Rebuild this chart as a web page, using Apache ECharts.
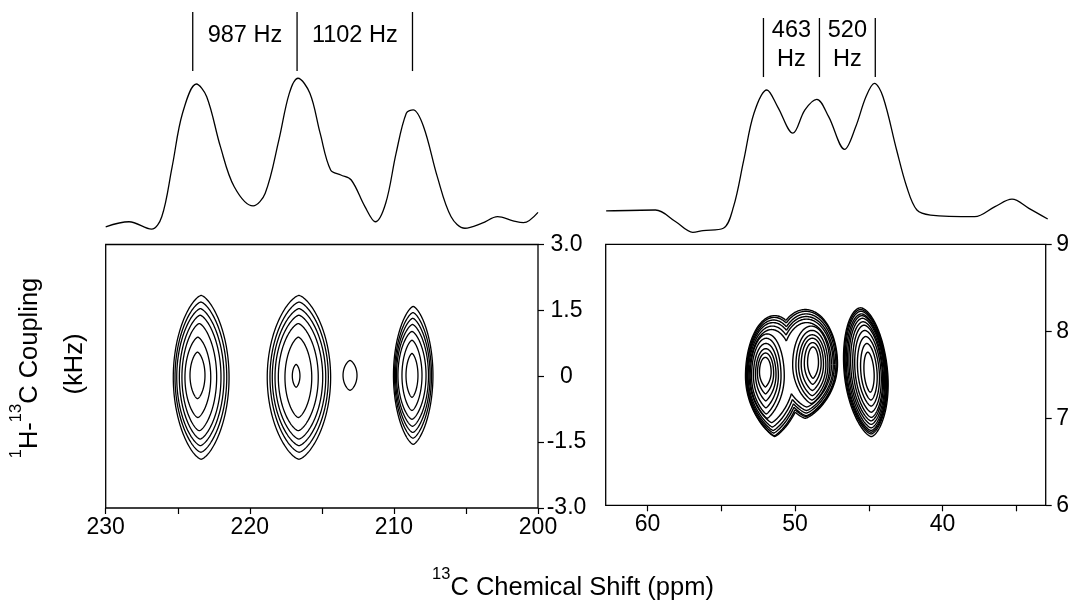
<!DOCTYPE html>
<html><head><meta charset="utf-8">
<script src="https://cdn.jsdelivr.net/npm/echarts@6/dist/echarts.min.js"></script>
<style>html,body{margin:0;padding:0;background:#fff}#c{width:1072px;height:605px}</style>
</head><body><div id="c"></div>
<script>
// ---------------- DATA ----------------
// Top 1D spectra: chemical shift (ppm) and intensity (arbitrary units)
const leftSpecPpm = [230.0, 228.38, 226.82, 226.11, 225.39, 224.67, 223.71, 222.99, 222.04, 221.08, 219.77, 218.93, 217.98, 217.26, 216.66, 215.83, 215.12, 214.39, 213.68, 212.96, 212.01, 211.29, 210.57, 209.85, 209.14, 208.66, 207.94, 206.99, 206.03, 205.07, 203.88, 202.80, 201.73, 201.01, 200.0];
const leftSpecInt = [5.5, 7.6, 4.5, 9.7, 30.5, 52.8, 65.0, 59.7, 38.9, 22.2, 14.2, 19.5, 41.7, 61.1, 67.4, 61.1, 44.5, 29.2, 27.1, 25.0, 13.9, 7.6, 15.3, 36.1, 52.8, 54.2, 47.2, 26.4, 9.7, 4.9, 7.0, 9.7, 8.0, 7.2, 11.5];
const rightSpecPpm = [62.81, 59.48, 58.11, 56.96, 56.27, 54.90, 54.21, 53.52, 52.83, 51.96, 51.23, 50.20, 49.39, 48.59, 47.79, 46.71, 45.96, 45.27, 44.70, 44.12, 43.20, 42.52, 41.83, 40.91, 37.93, 36.56, 35.41, 34.27, 33.0];
const rightSpecInt = [12.1, 12.5, 7.6, 3.2, 3.9, 4.9, 13.9, 33.3, 52.8, 62.5, 55.5, 44.5, 54.2, 58.6, 51.4, 37.8, 47.2, 59.7, 65.3, 59.7, 37.5, 22.2, 12.5, 10.4, 9.7, 13.9, 17.0, 13.2, 8.75];

// Splitting markers (ppm) and their labels
const leftMarkerPpm = [223.96, 216.72, 208.71];
const leftMarkerLabels = ['987 Hz', '1102 Hz'];
const rightMarkerPpm = [52.19, 48.41, 44.64];
const rightMarkerLabels = ['463\nHz', '520\nHz'];

// Axis ticks
const leftXTicks = [200, 205, 210, 215, 220, 225, 230];
const leftXLabels = [200, 210, 220, 230];
const leftYTicks = [-3, -1.5, 0, 1.5, 3];
const rightXTicks = [35, 40, 45, 50, 55, 60];
const rightXLabels = [40, 50, 60];
const rightYTicks = [6, 7, 8, 9];

// Contour rings: [leftEdgePpm, rightEdgePpm, top, bottom]
const leftPeak1Rings = [
  [225.31, 221.44, 1.84, -1.89], [225.19, 221.60, 1.69, -1.73], [225.07, 221.79, 1.54, -1.58],
  [224.89, 222.00, 1.39, -1.43], [224.71, 222.30, 1.20, -1.24], [224.50, 222.71, 0.89, -0.94],
  [224.15, 223.11, 0.55, -0.51]];
const leftPeak2Rings = [
  [218.79, 214.39, 1.84, -1.89], [218.60, 214.55, 1.69, -1.73], [218.44, 214.73, 1.54, -1.58],
  [218.25, 214.94, 1.39, -1.43], [218.02, 215.25, 1.20, -1.24], [217.56, 215.70, 0.89, -0.94],
  [217.05, 216.52, 0.27, -0.25]];
const leftSmallRings = [[213.53, 212.56, 0.36, -0.32]];
const leftPeak3Rings = [
  [210.03, 207.29, 1.59, -1.55], [209.96, 207.39, 1.45, -1.41], [209.89, 207.49, 1.32, -1.28],
  [209.82, 207.60, 1.18, -1.14], [209.72, 207.77, 1.02, -0.98], [209.44, 208.05, 0.82, -0.78],
  [209.16, 208.33, 0.52, -0.48]];

const rightPeakARings = [
  [53.36, 49.40, 8.18, 6.79], [53.31, 49.51, 8.16, 6.80], [53.27, 49.63, 8.13, 6.83],
  [53.23, 49.74, 8.10, 6.86], [53.18, 49.90, 8.06, 6.90], [53.11, 50.07, 8.02, 6.95],
  [53.04, 50.73, 7.97, 7.00], [52.95, 50.95, 7.92, 7.05], [52.82, 51.13, 7.86, 7.12],
  [52.68, 51.29, 7.80, 7.20], [52.55, 51.45, 7.75, 7.28], [52.41, 51.62, 7.70, 7.36]];
const rightPeakBRings = [
  [51.49, 47.12, 8.25, 7.00], [51.38, 47.16, 8.23, 7.02], [51.26, 47.23, 8.20, 7.03],
  [51.15, 47.33, 8.17, 7.06], [51.04, 47.41, 8.14, 7.09], [50.88, 47.53, 8.10, 7.13],
  [50.16, 47.64, 8.06, 7.17], [49.94, 47.77, 8.01, 7.21], [49.76, 47.91, 7.96, 7.26],
  [49.58, 48.07, 7.92, 7.32], [49.37, 48.23, 7.87, 7.39], [49.15, 48.41, 7.82, 7.46]];
const rightPeakCRings = [
  [46.67, 43.72, 8.27, 6.79], [46.62, 43.77, 8.25, 6.82], [46.56, 43.81, 8.23, 6.84],
  [46.49, 43.85, 8.20, 6.86], [46.40, 43.90, 8.18, 6.89], [46.31, 43.95, 8.15, 6.93],
  [46.20, 44.02, 8.11, 6.97], [46.06, 44.08, 8.07, 7.01], [45.93, 44.17, 8.01, 7.07],
  [45.75, 44.29, 7.94, 7.14], [45.54, 44.44, 7.86, 7.21], [45.32, 44.64, 7.76, 7.30]];
const rightMergedLevels = 6;

// ---------------- drawing helpers ----------------
const FONT = 'Liberation Sans, Arial, Helvetica, sans-serif';
function geom(api, r, m) {
  const p1 = api.coord([r[0], r[2]]);
  const p2 = api.coord([r[1], r[3]]);
  return {cx: (p1[0] + p2[0]) / 2, cy: (p1[1] + p2[1]) / 2,
          a: Math.abs(p2[0] - p1[0]) / 2, b: Math.abs(p2[1] - p1[1]) / 2, qt: m.qt, qb: m.qb, s: m.s};
}
function shapePoint(g, t) {
  const c = Math.cos(t), v = Math.sin(t);
  const q = v >= 0 ? g.qt : g.qb;
  const u = Math.sign(c) * Math.pow(Math.abs(c), q);
  return [g.cx + g.a * u - g.s * v * g.a, g.cy - g.b * v];
}
function inside(g, p) {
  const v = (g.cy - p[1]) / g.b;
  const u = (p[0] - g.cx + g.s * v * g.a) / g.a;
  const q = v >= 0 ? g.qt : g.qb;
  return Math.pow(Math.abs(u), 2 / q) + v * v < 1;
}
function makeRingRenderer(items, meta, LW) {
  return function (params, api) {
    const i = params.dataIndex;
    const own = [api.value(0), api.value(1), api.value(2), api.value(3)];
    const g = geom(api, own, meta[i]);
    const pi = meta[i].partner;
    const N = 220;
    if (pi < 0) {
      const pts = [];
      for (let k = 0; k < N; k++) pts.push(shapePoint(g, 2 * Math.PI * k / N));
      return {type: 'polygon', shape: {points: pts}, style: {fill: 'none', stroke: '#000', lineWidth: LW}};
    }
    const pg = geom(api, items[pi], meta[pi]);
    let start = -1;
    for (let k = 0; k < N; k++) if (!inside(pg, shapePoint(g, 2 * Math.PI * k / N))) { start = k; break; }
    if (start < 0) return null;
    const children = [];
    let cur = [];
    const flush = () => { if (cur.length > 1) children.push({type: 'polyline', shape: {points: cur}, style: {fill: 'none', stroke: '#000', lineWidth: LW}}); cur = []; };
    let prevT = null, prevIn = null;
    for (let k = 0; k <= N; k++) {
      const t = 2 * Math.PI * (start + k) / N;
      const p = shapePoint(g, t);
      const isIn = inside(pg, p);
      if (prevT !== null && isIn !== prevIn) {
        let lo = prevT, hi = t;
        for (let it = 0; it < 14; it++) {
          const mid = (lo + hi) / 2;
          if (inside(pg, shapePoint(g, mid)) === prevIn) lo = mid; else hi = mid;
        }
        const bp = shapePoint(g, (lo + hi) / 2);
        if (!prevIn) { cur.push(bp); flush(); } else { cur = [bp]; }
      }
      if (!isIn) cur.push(p);
      prevT = t; prevIn = isIn;
    }
    flush();
    return {type: 'group', children};
  };
}

// Build left contour items
const leftItems = [].concat(leftPeak1Rings, leftPeak2Rings, leftSmallRings, leftPeak3Rings);
const leftMeta = leftItems.map(() => ({qt: 1.35, qb: 1.35, s: 0, partner: -1}));
// Build right contour items
const rightItems = [].concat(rightPeakARings, rightPeakBRings, rightPeakCRings);
const nA = rightPeakARings.length, nB = rightPeakBRings.length;
const rightMeta = rightItems.map((r, i) => {
  if (i < nA) return {qt: 1.0, qb: 1.6, s: 0.0, partner: i < rightMergedLevels ? nA + i : -1};
  if (i < nA + nB) { const k = i - nA; return {qt: 1.0, qb: 1.5, s: 0.0, partner: k < rightMergedLevels ? k : -1}; }
  return {qt: 1.1, qb: 1.3, s: 0.25, partner: -1};
});

function markerRenderer(y1, y2) {
  return function (params, api) {
    const a = api.coord([api.value(0), y1]);
    const b = api.coord([api.value(0), y2]);
    return {type: 'line', shape: {x1: a[0], y1: a[1], x2: b[0], y2: b[1]}, style: {stroke: '#000', lineWidth: 1.3}};
  };
}
function mids(arr) { const o = []; for (let i = 0; i < arr.length - 1; i++) o.push((arr[i] + arr[i + 1]) / 2); return o; }

const tickLabelStyle = {color: '#000', fontSize: 23, fontFamily: FONT};
const annLabel = {show: true, position: 'inside', formatter: '{b}', color: '#000', fontSize: 23.5, lineHeight: 29,
  fontFamily: FONT, textBorderWidth: 0, textShadowBlur: 0, opacity: 1};
const chart = echarts.init(document.getElementById('c'), null, {renderer: 'canvas'});
const option = {
  animation: false,
  backgroundColor: '#fff',
  grid: [
    {left: 105.7, top: 0, width: 432.3, height: 240, show: false},
    {left: 105.7, top: 244.5, width: 432.3, height: 263.5, show: true, borderColor: '#000', borderWidth: 1.3, backgroundColor: 'transparent'},
    {left: 605.7, top: 0, width: 442, height: 240, show: false},
    {left: 605.7, top: 244.3, width: 442, height: 261, show: true, borderColor: '#000', borderWidth: 1.3, backgroundColor: 'transparent'}
  ],
  xAxis: [
    {gridIndex: 0, type: 'value', min: 200, max: 230, inverse: true, show: false},
    {gridIndex: 1, type: 'value', min: 200, max: 230, inverse: true, axisLine: {show: false, onZero: false}, splitLine: {show: false},
     axisTick: {show: true, length: 6, lineStyle: {color: '#000', width: 1.2}, customValues: leftXTicks},
     axisLabel: Object.assign({margin: 8, customValues: leftXLabels}, tickLabelStyle)},
    {gridIndex: 2, type: 'value', min: 33, max: 62.84, inverse: true, show: false},
    {gridIndex: 3, type: 'value', min: 33, max: 62.84, inverse: true, axisLine: {show: false, onZero: false}, splitLine: {show: false},
     axisTick: {show: true, length: 6, lineStyle: {color: '#000', width: 1.2}, customValues: rightXTicks},
     axisLabel: Object.assign({margin: 8, customValues: rightXLabels}, tickLabelStyle)}
  ],
  yAxis: [
    {gridIndex: 0, type: 'value', min: 0, max: 100, show: false},
    {gridIndex: 1, type: 'value', min: -3, max: 3, position: 'right', axisLine: {show: false, onZero: false}, splitLine: {show: false},
     axisTick: {show: true, length: 6, lineStyle: {color: '#000', width: 1.2}, customValues: leftYTicks},
     axisLabel: Object.assign({margin: 28.5, align: 'center', customValues: leftYTicks,
       formatter: v => (v === 0 ? '0' : Number(v).toFixed(1))}, tickLabelStyle)},
    {gridIndex: 2, type: 'value', min: 0, max: 100, show: false},
    {gridIndex: 3, type: 'value', min: 6, max: 9, position: 'right', axisLine: {show: false, onZero: false}, splitLine: {show: false},
     axisTick: {show: true, length: 6, lineStyle: {color: '#000', width: 1.2}, customValues: rightYTicks},
     axisLabel: Object.assign({margin: 10.5, customValues: rightYTicks}, tickLabelStyle)}
  ],
  series: [
    {type: 'line', xAxisIndex: 0, yAxisIndex: 0, data: leftSpecPpm.map((x, i) => [x, leftSpecInt[i]]),
     smooth: 0.35, showSymbol: false, lineStyle: {color: '#000', width: 1.3}, silent: true},
    {type: 'line', xAxisIndex: 2, yAxisIndex: 2, data: rightSpecPpm.map((x, i) => [x, rightSpecInt[i]]),
     smooth: 0.35, showSymbol: false, lineStyle: {color: '#000', width: 1.3}, silent: true},
    {type: 'custom', xAxisIndex: 0, yAxisIndex: 0, data: leftMarkerPpm.map(x => [x]), renderItem: markerRenderer(95, 70.4), silent: true},
    {type: 'custom', xAxisIndex: 2, yAxisIndex: 2, data: rightMarkerPpm.map(x => [x]), renderItem: markerRenderer(92.5, 67.9), silent: true},
    {type: 'scatter', xAxisIndex: 0, yAxisIndex: 0, symbolSize: 0, silent: true, itemStyle: {opacity: 1},
     data: mids(leftMarkerPpm).map((x, i) => ({value: [x, 85], name: leftMarkerLabels[i]})), label: annLabel},
    {type: 'scatter', xAxisIndex: 2, yAxisIndex: 2, symbolSize: 0, silent: true, itemStyle: {opacity: 1},
     data: mids(rightMarkerPpm).map((x, i) => ({value: [x, 81.1], name: rightMarkerLabels[i]})), label: annLabel},
    {type: 'custom', xAxisIndex: 1, yAxisIndex: 1, data: leftItems, encode: {x: [0, 1], y: [2, 3]},
     renderItem: makeRingRenderer(leftItems, leftMeta, 1.3), silent: true, clip: true},
    {type: 'custom', xAxisIndex: 3, yAxisIndex: 3, data: rightItems, encode: {x: [0, 1], y: [2, 3]},
     renderItem: makeRingRenderer(rightItems, rightMeta, 1.4), silent: true, clip: true}
  ],
  graphic: [
    {type: 'text', x: 573, y: 588, silent: true,
     style: {text: '{s|13}{m|C Chemical Shift (ppm)}', align: 'center', verticalAlign: 'middle', fill: '#000',
       rich: {s: {fontSize: 16.5, lineHeight: 16.5, verticalAlign: 'top', fontFamily: FONT, fill: '#000'},
              m: {fontSize: 25.5, lineHeight: 44, fontFamily: FONT, fill: '#000'}}}},
    {type: 'text', x: 30, y: 368, rotation: Math.PI / 2, silent: true,
     style: {text: '{s|1}{m|H-}{s|13}{m|C Coupling}', align: 'center', verticalAlign: 'middle', fill: '#000',
       rich: {s: {fontSize: 16.5, lineHeight: 16.5, verticalAlign: 'top', fontFamily: FONT, fill: '#000'},
              m: {fontSize: 25.5, lineHeight: 44, fontFamily: FONT, fill: '#000'}}}},
    {type: 'text', x: 75, y: 364, rotation: Math.PI / 2, silent: true,
     style: {text: '(kHz)', align: 'center', verticalAlign: 'middle', fill: '#000', fontSize: 25.5, fontFamily: FONT}}
  ]
};
chart.setOption(option);
</script>
</body></html>
